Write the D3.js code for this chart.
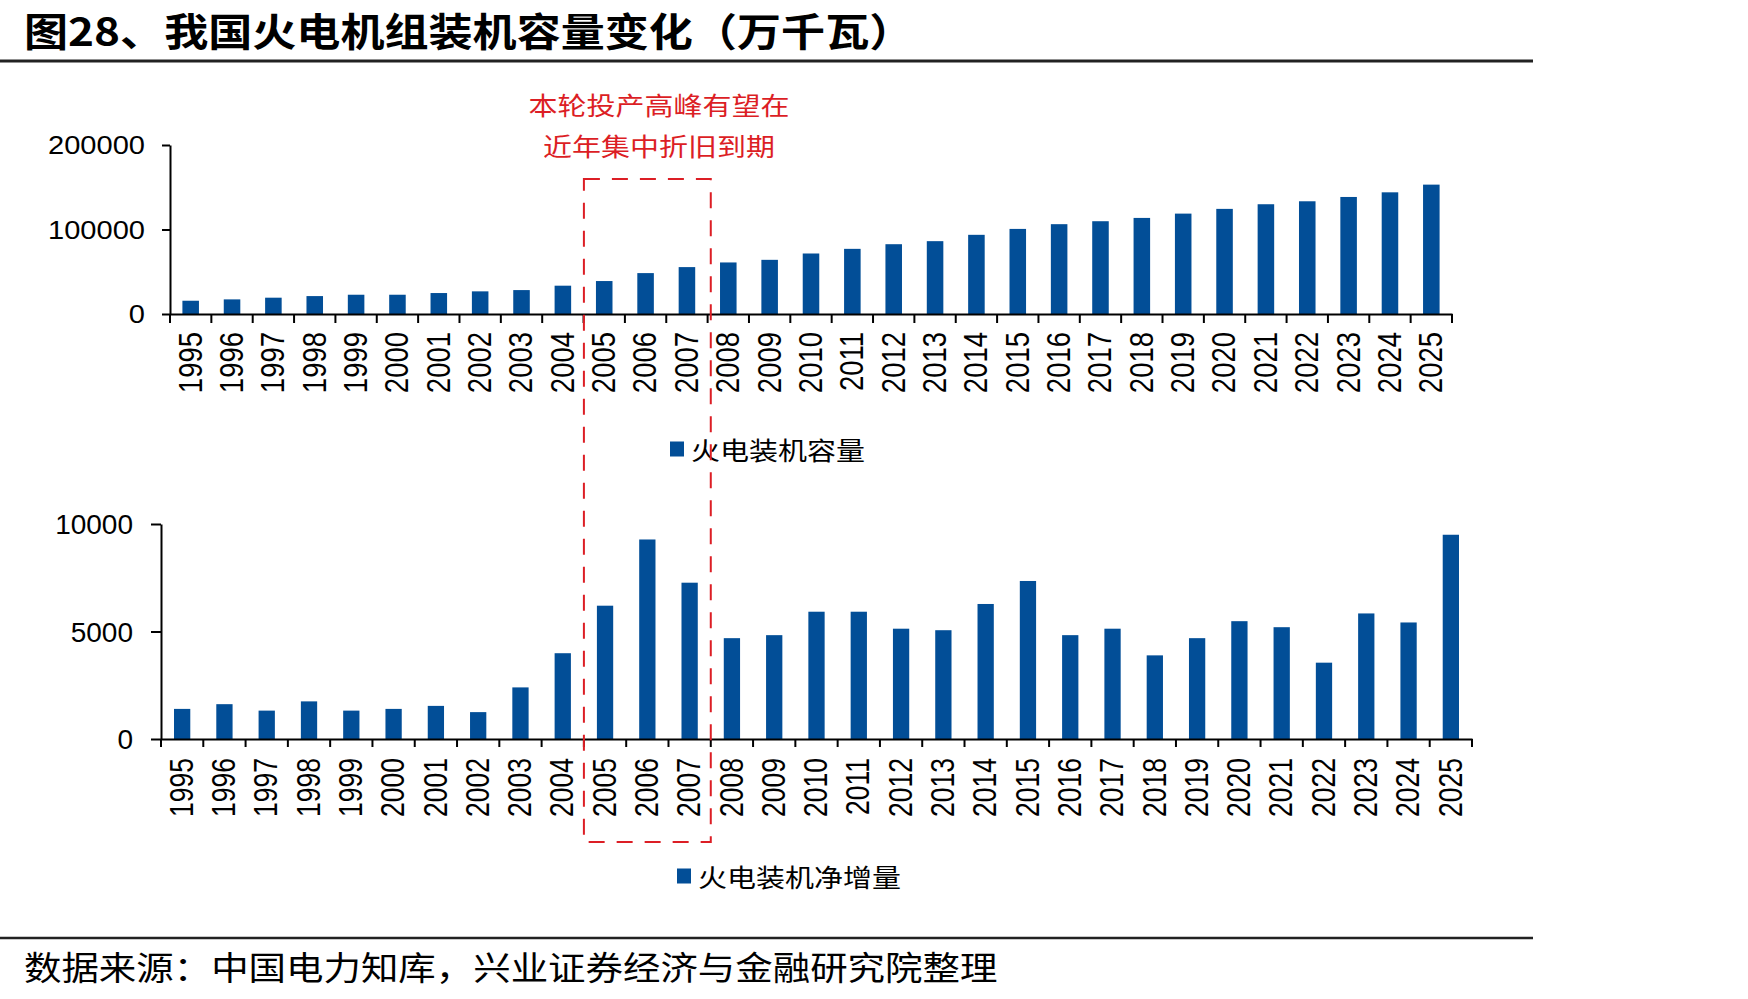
<!DOCTYPE html>
<html>
<head>
<meta charset="utf-8">
<script src="https://cdn.jsdelivr.net/npm/d3@7/dist/d3.min.js"></script>
<style>
	html, body { margin: 0; padding: 0; background: #fff; }
	svg { display: block; }
	text { fill: #000; }
</style>
</head>
<body>
<svg id="chart" width="1748" height="999"></svg>
<script>
// 数据：万千瓦
let years		= ['1995','1996','1997','1998','1999','2000','2001','2002','2003','2004','2005','2006','2007','2008','2009','2010','2011','2012','2013','2014','2015','2016','2017','2018','2019','2020','2021','2022','2023','2024','2025'];
let capacity	= [15700, 17300, 19300, 21200, 22800, 22800, 24800, 26800, 28300, 33500, 39000, 48400, 55500, 61000, 64100, 71600, 77100, 82600, 86200, 93700, 100700, 106300, 109800, 113700, 118800, 124400, 129900, 133400, 138500, 144000, 153100];
let netAdd		= [1400, 1620, 1320, 1750, 1320, 1400, 1540, 1250, 2400, 3990, 6200, 9280, 7270, 4690, 4830, 5920, 5920, 5130, 5060, 6280, 7350, 4830, 5130, 3890, 4690, 5480, 5200, 3550, 5840, 5420, 9500];
let capTicks	= [0, 100000, 200000];
let addTicks	= [0, 5000, 10000];

let title		= '图28、我国火电机组装机容量变化（万千瓦）';
let note		= ['本轮投产高峰有望在', '近年集中折旧到期'];
let legendCap	= '火电装机容量';
let legendAdd	= '火电装机净增量';
let source		= '数据来源：中国电力知库，兴业证券经济与金融研究院整理';

let blue	= '#024e97';
let red		= '#dc1e25';
let numFont	= '"Liberation Sans", Arial, sans-serif';
let cjkFont	= '"Noto Sans CJK SC", "Noto Sans", sans-serif';

let svg	= d3.select('#chart');

// 文字略微横向拉伸，和原图一致
function label(x, y, str, size, sx, opts) {
	opts = opts || {};
	let t = svg.append('text')
		.attr('transform', 'translate(' + x + ',' + y + ') scale(' + sx + ',1)')
		.attr('text-anchor', opts.anchor || 'start')
		.attr('dominant-baseline', 'central')
		.style('font-family', opts.font || cjkFont)
		.style('font-size', size + 'px')
		.style('font-weight', opts.weight || 'normal')
		.style('fill', opts.color || '#000')
		.text(str);
	return t;
}

function drawPanel(cfg) {
	let x = d3.scaleBand().domain(years).range([cfg.x0, cfg.x1]).paddingInner(cfg.pad).paddingOuter(cfg.pad / 2);
	let y = d3.scaleLinear().domain([0, cfg.ticks[cfg.ticks.length - 1]]).range([cfg.yBase, cfg.yTop]);

	let g = svg.append('g');

	g.selectAll('rect.bar').data(cfg.values).enter().append('rect')
		.attr('class', 'bar')
		.attr('x', (d, i) => x(years[i]))
		.attr('width', x.bandwidth())
		.attr('y', d => y(d))
		.attr('height', d => y(0) - y(d))
		.style('fill', blue);

	// y 轴
	let yAxis = g.append('g').attr('transform', 'translate(' + cfg.x0 + ',0)')
		.call(d3.axisLeft(y).tickValues(cfg.ticks).tickSize(cfg.yTick).tickSizeOuter(0).tickPadding(0).tickFormat(d3.format('d')));
	yAxis.select('.domain').attr('stroke', '#000').attr('stroke-width', 2);
	yAxis.selectAll('.tick line').attr('stroke', '#000').attr('stroke-width', 2);
	yAxis.selectAll('.tick text')
		.attr('x', -(cfg.yTick + cfg.yGap) / cfg.ySx)
		.attr('dy', 0)
		.attr('dominant-baseline', 'central')
		.attr('transform', 'scale(' + cfg.ySx + ',1)')
		.style('font-family', numFont)
		.style('font-size', cfg.yFont + 'px')
		.style('fill', '#000');

	// x 轴：刻度在类别之间
	let xAxis = g.append('g').attr('transform', 'translate(0,' + cfg.yBase + ')')
		.call(d3.axisBottom(x).tickSize(0).tickSizeOuter(0).tickPadding(0));
	xAxis.select('.domain').attr('stroke', '#000').attr('stroke-width', 2);
	xAxis.selectAll('.tick text')
		.attr('x', -cfg.xGap)
		.attr('y', 0)
		.attr('dy', '0.33em')
		.attr('text-anchor', 'end')
		.attr('transform', 'scale(' + cfg.xSx + ',1) rotate(-90)')
		.style('font-family', numFont)
		.style('font-size', cfg.xFont + 'px')
		.style('fill', '#000');

	let bounds = d3.range(years.length + 1).map(i => cfg.x0 + i * x.step());
	g.selectAll('line.sep').data(bounds).enter().append('line')
		.attr('class', 'sep')
		.attr('x1', d => d).attr('x2', d => d)
		.attr('y1', cfg.yBase).attr('y2', cfg.yBase + cfg.xTick)
		.attr('stroke', '#000').attr('stroke-width', 2);

	// 图例
	g.append('rect').attr('x', cfg.legX).attr('y', cfg.legY - 7.5).attr('width', 14).attr('height', 15).style('fill', blue);
	label(cfg.legX + 21, cfg.legY, cfg.legend, 25, 1.16);

	return x;
}

// 标题与分隔线
label(24, 29, title, 39, 1.13, { weight: 'bold' });
svg.append('line').attr('x1', 0).attr('x2', 1533).attr('y1', 61).attr('y2', 61).attr('stroke', '#222').attr('stroke-width', 3);
svg.append('line').attr('x1', 0).attr('x2', 1533).attr('y1', 938).attr('y2', 938).attr('stroke', '#222').attr('stroke-width', 2.5);

drawPanel({
	values: capacity, ticks: capTicks,
	x0: 170, x1: 1452, pad: 0.6, yBase: 314, yTop: 145,
	yTick: 8, yGap: 17, yFont: 25.5, ySx: 1.14,
	xGap: 18, xFont: 27.5, xSx: 1.2, xTick: 9,
	legX: 670, legY: 449, legend: legendCap
});

let xb = drawPanel({
	values: netAdd, ticks: addTicks,
	x0: 161, x1: 1472, pad: 0.615, yBase: 739, yTop: 524,
	yTick: 10, yGap: 18, yFont: 28, ySx: 1.0,
	xGap: 19, xFont: 26.5, xSx: 1.22, xTick: 8,
	legX: 677, legY: 876, legend: legendAdd
});

// 红色虚线框：2005-2007
let boxL = 161 + 10 * xb.step();
let boxR = 161 + 13 * xb.step();
svg.append('rect')
	.attr('x', boxL).attr('y', 179)
	.attr('width', boxR - boxL).attr('height', 842 - 179)
	.style('fill', 'none').style('stroke', red).style('stroke-width', 2).style('stroke-dasharray', '16,12');

label(659, 104, note[0], 25, 1.16, { anchor: 'middle', color: red });
label(659, 145, note[1], 25, 1.16, { anchor: 'middle', color: red });

label(24, 966, source, 33, 1.135);
</script>
</body>
</html>
